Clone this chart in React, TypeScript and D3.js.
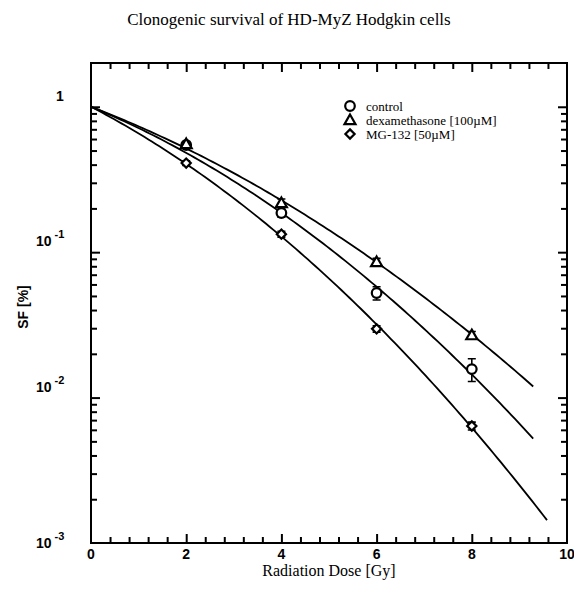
import React, { useEffect, useRef } from "react";
import * as d3 from "d3";

// Irradiation doses (Gy) at which colonies were counted
const doses = [2, 4, 6, 8];

// Surviving fractions and error-bar half widths per treatment
const controlSF = [0.546, 0.186, 0.0524, 0.0157];
const controlErr = [0.02, 0.012, 0.0055, 0.0028];
const dexSF = [0.555, 0.218, 0.0857, 0.0269];
const dexErr = [0.02, 0.014, 0.005, 0.0016];
const mgSF = [0.41, 0.133, 0.0297, 0.00638];
const mgErr = [0.015, 0.006, 0.0015, 0.0004];

// Linear-quadratic fit parameters: SF = exp(-alpha*D - beta*D^2)
const seriesNames = ["control", "dexamethasone [100\u00b5M]", "MG-132 [50\u00b5M]"];
const fitAlpha = [0.31, 0.29, 0.392];
const fitBeta = [0.0275, 0.0201, 0.0304];
const fitMaxDose = [9.29, 9.29, 9.58];

// Axis ticks
const xTickLabels = [0, 2, 4, 6, 8, 10];
const yDecades = [1, 0.1, 0.01, 0.001];

const W = 574;
const H = 595;
const M = { left: 91, right: 567, top: 63, bottom: 543 };

const x = d3.scaleLinear().domain([0, 10]).range([M.left, M.right]);
const y = d3.scaleLog().domain([0.001, 2]).range([M.bottom, M.top]);

const sansBold = "'Liberation Sans', Arial, sans-serif";
const serif = "'Liberation Serif', 'Times New Roman', serif";

type Marker = "circle" | "triangle" | "diamond";

function MarkerShape({ kind, cx, cy }: { kind: Marker; cx: number; cy: number }) {
  const common = { fill: "white", stroke: "black", strokeWidth: 2.2 };
  if (kind === "circle") return <circle cx={cx} cy={cy} r={4.8} {...common} />;
  if (kind === "triangle") {
    const s = 5.5;
    return (
      <path
        d={`M${cx},${cy - s}L${cx + s},${cy + s * 0.75}L${cx - s},${cy + s * 0.75}Z`}
        {...common}
      />
    );
  }
  const s = 4.6;
  return (
    <path d={`M${cx},${cy - s}L${cx + s},${cy}L${cx},${cy + s}L${cx - s},${cy}Z`} {...common} />
  );
}

export default function App() {
  const axesRef = useRef<SVGGElement | null>(null);

  const series = [
    { sf: controlSF, err: controlErr, marker: "circle" as Marker },
    { sf: dexSF, err: dexErr, marker: "triangle" as Marker },
    { sf: mgSF, err: mgErr, marker: "diamond" as Marker },
  ];

  const line = d3
    .line<[number, number]>()
    .x((d) => x(d[0]))
    .y((d) => y(d[1]));

  const fitPath = (i: number) => {
    const steps = d3.range(0, fitMaxDose[i] + 1e-9, fitMaxDose[i] / 120);
    const pts = steps.map(
      (D) => [D, Math.exp(-fitAlpha[i] * D - fitBeta[i] * D * D)] as [number, number]
    );
    return line(pts) || "";
  };

  // inward-pointing ticks on all four sides, drawn with d3 axes
  useEffect(() => {
    const g = d3.select(axesRef.current);
    g.selectAll("*").remove();
    const xMinorVals = d3.range(1, 25).map((k) => k * 0.4).filter((_, k) => (k + 1) % 5 !== 0);
    const xMajorVals = [2, 4, 6, 8];
    const yMinorVals: number[] = [];
    [0.001, 0.01, 0.1, 1].forEach((dec) => {
      for (let k = 2; k <= 9; k++) if (dec * k < 1.99) yMinorVals.push(dec * k);
    });
    const yMajorVals = [0.01, 0.1, 1];

    const draw = (axis: any, tr: string) => {
      const sel = g.append("g").attr("transform", tr).call(axis);
      sel.select(".domain").remove();
      sel.selectAll("text").remove();
      sel.selectAll("line").attr("stroke", "#000").attr("stroke-width", 2);
    };
    const maj = 9;
    const min = 6;
    draw(d3.axisBottom(x).tickValues(xMinorVals).tickSize(-min), `translate(0,${M.bottom})`);
    draw(d3.axisBottom(x).tickValues(xMajorVals).tickSize(-maj), `translate(0,${M.bottom})`);
    draw(d3.axisTop(x).tickValues(xMinorVals).tickSize(-min), `translate(0,${M.top})`);
    draw(d3.axisTop(x).tickValues(xMajorVals).tickSize(-maj), `translate(0,${M.top})`);
    draw(d3.axisLeft(y).tickValues(yMinorVals).tickSize(-min), `translate(${M.left},0)`);
    draw(d3.axisLeft(y).tickValues(yMajorVals).tickSize(-maj), `translate(${M.left},0)`);
    draw(d3.axisRight(y).tickValues(yMinorVals).tickSize(-min), `translate(${M.right},0)`);
    draw(d3.axisRight(y).tickValues(yMajorVals).tickSize(-maj), `translate(${M.right},0)`);
  }, []);

  return (
    <svg width={W} height={H} style={{ position: "absolute", left: 0, top: 0, background: "white" }}>
      <rect width={W} height={H} fill="white" />
      <text x={289} y={25} textAnchor="middle" fontFamily={serif} fontSize={17}>
        Clonogenic survival of HD-MyZ Hodgkin cells
      </text>

      {/* fitted survival curves */}
      {series.map((_, i) => (
        <path key={"fit" + i} d={fitPath(i)} fill="none" stroke="black" strokeWidth={1.8} />
      ))}

      {/* error bars and symbols */}
      {series.map((s, i) => (
        <g key={"pts" + i}>
          {doses.map((D, j) => {
            const cx = x(D);
            const lo = y(s.sf[j] - s.err[j]);
            const hi = y(s.sf[j] + s.err[j]);
            return (
              <path
                key={j}
                d={`M${cx},${lo}V${hi}M${cx - 4},${lo}H${cx + 4}M${cx - 4},${hi}H${cx + 4}`}
                stroke="#000"
                strokeWidth={1.6}
                fill="none"
              />
            );
          })}
          {doses.map((D, j) => (
            <MarkerShape key={"m" + j} kind={s.marker} cx={x(D)} cy={y(s.sf[j])} />
          ))}
        </g>
      ))}

      {/* frame */}
      <rect
        x={M.left}
        y={M.top}
        width={M.right - M.left}
        height={M.bottom - M.top}
        fill="none"
        stroke="black"
        strokeWidth={2}
      />
      <g ref={axesRef} />

      {/* x tick labels */}
      {xTickLabels.map((v) => (
        <text
          key={"xl" + v}
          x={x(v)}
          y={559}
          textAnchor="middle"
          fontFamily={sansBold}
          fontWeight="bold"
          fontSize={14}
        >
          {v}
        </text>
      ))}
      <text x={(M.left + M.right) / 2} y={576} textAnchor="middle" fontFamily={serif} fontSize={16}>
        Radiation Dose [Gy]
      </text>

      {/* y tick labels */}
      {yDecades.map((v, i) => {
        const exp = Math.round(Math.log10(v));
        const yy = y(v) + (i === yDecades.length - 1 ? 0 : -11) + 5;
        if (exp === 0)
          return (
            <text key="y0" x={60} y={yy} textAnchor="middle" fontFamily={sansBold} fontWeight="bold" fontSize={14}>
              1
            </text>
          );
        return (
          <text key={"yl" + v} x={36} y={yy} fontFamily={sansBold} fontWeight="bold" fontSize={14}>
            10
            <tspan dx={3} dy={-8} fontSize={11}>
              {"-" + Math.abs(exp)}
            </tspan>
          </text>
        );
      })}
      <text
        transform={`translate(28,307) rotate(-90)`}
        textAnchor="middle"
        fontFamily={sansBold}
        fontWeight="bold"
        fontSize={14}
      >
        SF [%]
      </text>

      {/* legend */}
      {seriesNames.map((name, i) => (
        <g key={"lg" + i}>
          <MarkerShape kind={series[i].marker} cx={350} cy={106 + i * 14} />
          <text x={366} y={106 + i * 14 + 4.5} fontFamily={serif} fontSize={13}>
            {name}
          </text>
        </g>
      ))}
    </svg>
  );
}
